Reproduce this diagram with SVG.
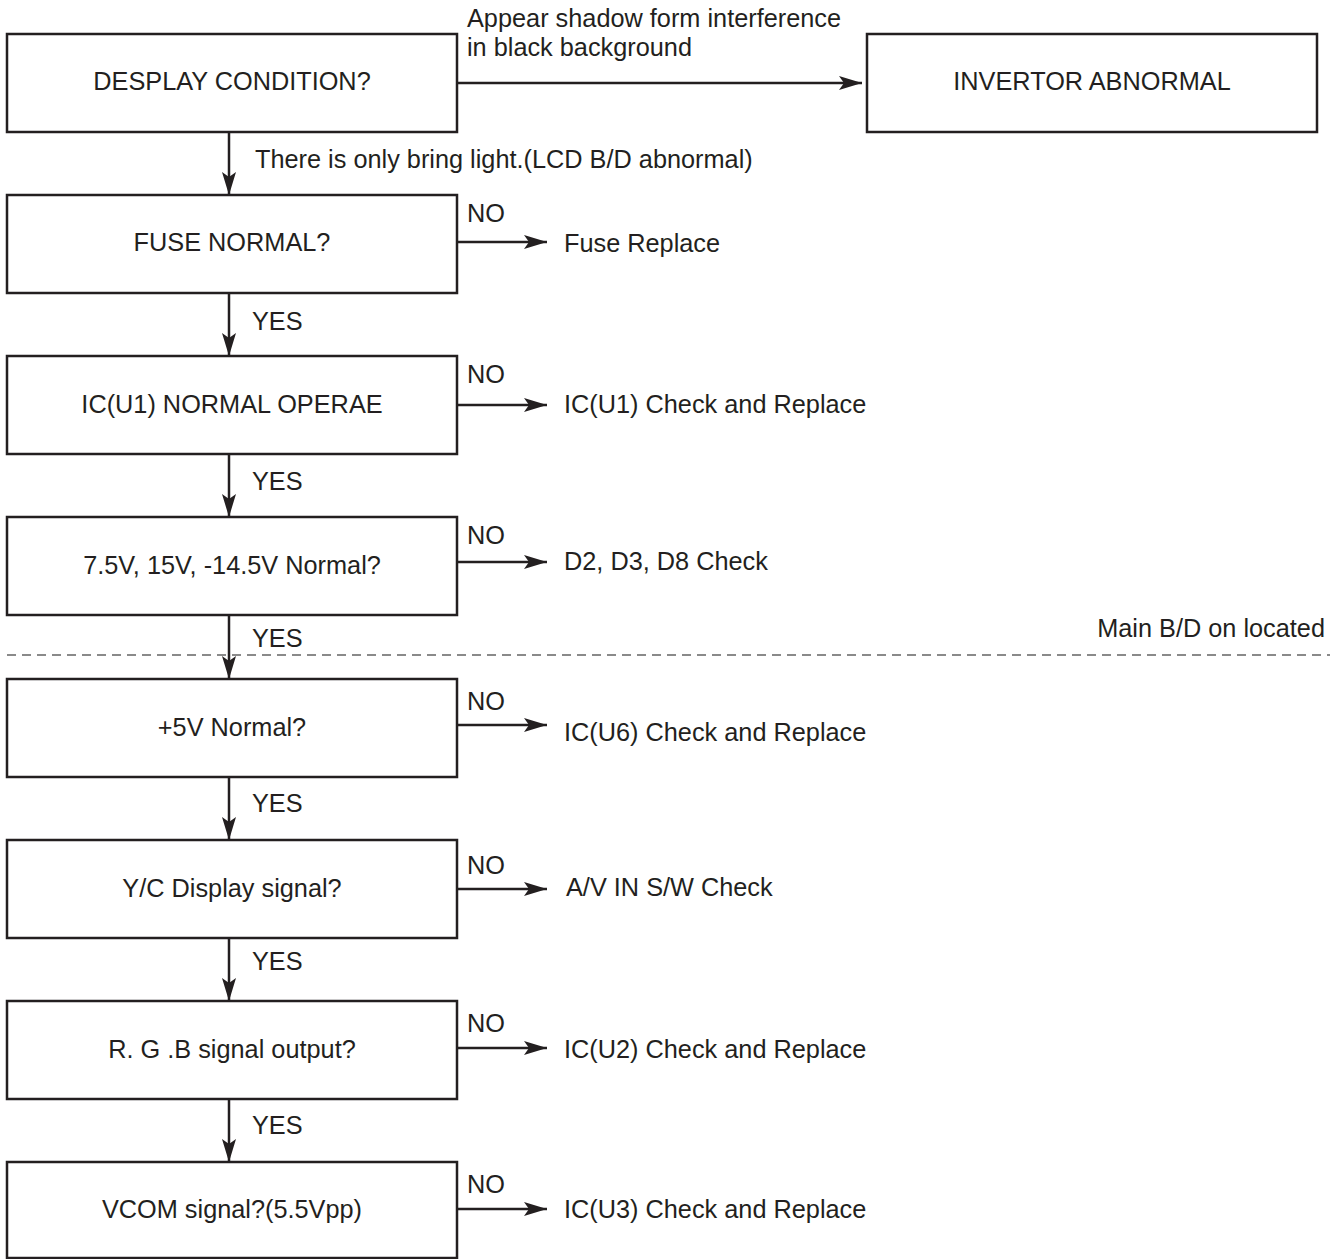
<svg xmlns="http://www.w3.org/2000/svg" width="1339" height="1259" viewBox="0 0 1339 1259">
<style>
.box{fill:#fff;stroke:#231f20;stroke-width:2.5}
.t{font-family:"Liberation Sans",Arial,sans-serif;font-size:25.3px;fill:#231f20}
.c{text-anchor:middle}
.ln{stroke:#231f20;stroke-width:2.5;fill:none}
.dash{stroke:#8a8a8a;stroke-width:2;stroke-dasharray:9 6;fill:none}
</style>
<defs>
<marker id="ah" viewBox="0 0 23 14" markerWidth="23" markerHeight="14" refX="23" refY="7" orient="auto" markerUnits="userSpaceOnUse">
<path d="M0,0 L23,7 L0,14 L5,7 z" fill="#231f20"/>
</marker>
</defs>
<rect width="1339" height="1259" fill="#fff"/>
<g id="n1"><rect class="box" x="7" y="34" width="450" height="98"/><text class="t c" x="232" y="90">DESPLAY CONDITION?</text></g>
<g id="inv"><rect class="box" x="867" y="34" width="450" height="98"/><text class="t c" x="1092" y="90">INVERTOR ABNORMAL</text></g>
<g id="n2"><rect class="box" x="7" y="195" width="450" height="98"/><text class="t c" x="232" y="251">FUSE NORMAL?</text></g>
<g id="n3"><rect class="box" x="7" y="356" width="450" height="98"/><text class="t c" x="232" y="413">IC(U1) NORMAL OPERAE</text></g>
<g id="n4"><rect class="box" x="7" y="517" width="450" height="98"/><text class="t c" x="232" y="574">7.5V, 15V, -14.5V Normal?</text></g>
<g id="n5"><rect class="box" x="7" y="679" width="450" height="98"/><text class="t c" x="232" y="736">+5V Normal?</text></g>
<g id="n6"><rect class="box" x="7" y="840" width="450" height="98"/><text class="t c" x="232" y="897">Y/C Display signal?</text></g>
<g id="n7"><rect class="box" x="7" y="1001" width="450" height="98"/><text class="t c" x="232" y="1058">R. G .B signal output?</text></g>
<g id="n8"><rect class="box" x="7" y="1162" width="450" height="96"/><text class="t c" x="232" y="1218">VCOM signal?(5.5Vpp)</text></g>
<g id="r2"><text class="t" x="564" y="252">Fuse Replace</text></g>
<g id="r3"><text class="t" x="564" y="413">IC(U1) Check and Replace</text></g>
<g id="r4"><text class="t" x="564" y="570">D2, D3, D8 Check</text></g>
<g id="r5"><text class="t" x="564" y="741">IC(U6) Check and Replace</text></g>
<g id="r6"><text class="t" x="566" y="896">A/V IN S/W Check</text></g>
<g id="r7"><text class="t" x="564" y="1058">IC(U2) Check and Replace</text></g>
<g id="r8"><text class="t" x="564" y="1218">IC(U3) Check and Replace</text></g>
<g id="divider">
<line class="dash" x1="7" y1="655" x2="1330" y2="655"/>
<text class="t" x="1325" y="637" text-anchor="end">Main B/D on located</text>
</g>
<g id="connectors">
<line class="ln" x1="457" y1="83" x2="862" y2="83" marker-end="url(#ah)"/>
<text class="t" x="467" y="27">Appear shadow form interference</text>
<text class="t" x="467" y="56">in black background</text>
<line class="ln" x1="229" y1="132" x2="229" y2="195" marker-end="url(#ah)"/>
<text class="t" x="255" y="168">There is only bring light.(LCD B/D abnormal)</text>
<line class="ln" x1="229" y1="293" x2="229" y2="356" marker-end="url(#ah)"/>
<text class="t" x="252" y="330">YES</text>
<line class="ln" x1="229" y1="454" x2="229" y2="517" marker-end="url(#ah)"/>
<text class="t" x="252" y="490">YES</text>
<line class="ln" x1="229" y1="615" x2="229" y2="679" marker-end="url(#ah)"/>
<text class="t" x="252" y="647">YES</text>
<line class="ln" x1="229" y1="777" x2="229" y2="840" marker-end="url(#ah)"/>
<text class="t" x="252" y="812">YES</text>
<line class="ln" x1="229" y1="938" x2="229" y2="1001" marker-end="url(#ah)"/>
<text class="t" x="252" y="970">YES</text>
<line class="ln" x1="229" y1="1099" x2="229" y2="1162" marker-end="url(#ah)"/>
<text class="t" x="252" y="1134">YES</text>
<line class="ln" x1="457" y1="242" x2="547" y2="242" marker-end="url(#ah)"/>
<text class="t" x="467" y="222">NO</text>
<line class="ln" x1="457" y1="405" x2="547" y2="405" marker-end="url(#ah)"/>
<text class="t" x="467" y="383">NO</text>
<line class="ln" x1="457" y1="562" x2="547" y2="562" marker-end="url(#ah)"/>
<text class="t" x="467" y="544">NO</text>
<line class="ln" x1="457" y1="725" x2="547" y2="725" marker-end="url(#ah)"/>
<text class="t" x="467" y="710">NO</text>
<line class="ln" x1="457" y1="889" x2="547" y2="889" marker-end="url(#ah)"/>
<text class="t" x="467" y="874">NO</text>
<line class="ln" x1="457" y1="1048" x2="547" y2="1048" marker-end="url(#ah)"/>
<text class="t" x="467" y="1032">NO</text>
<line class="ln" x1="457" y1="1209" x2="547" y2="1209" marker-end="url(#ah)"/>
<text class="t" x="467" y="1193">NO</text>
</g>
</svg>
